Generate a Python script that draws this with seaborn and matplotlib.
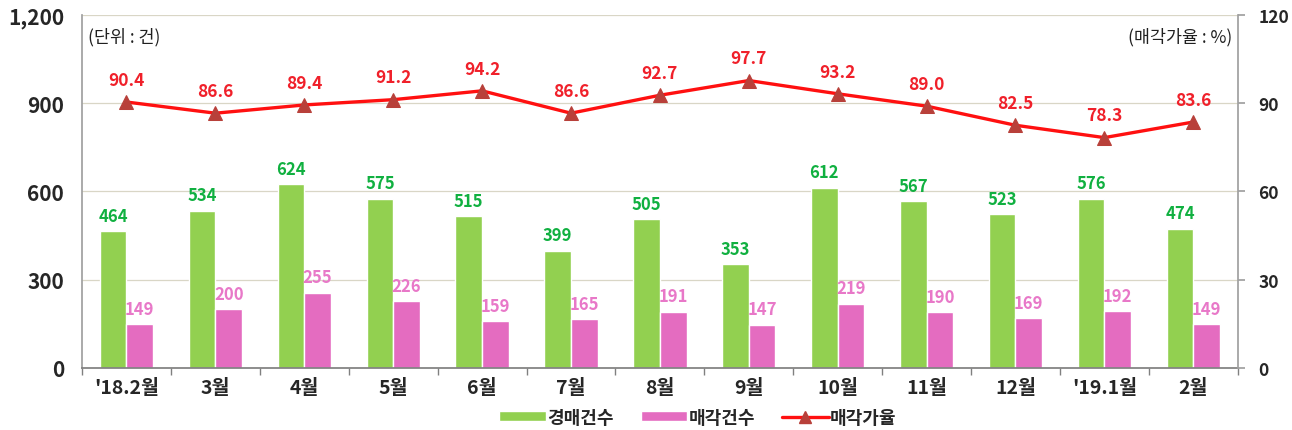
import numpy as np
import pandas as pd
import matplotlib
matplotlib.use("Agg")
import matplotlib.pyplot as plt
import seaborn as sns
from matplotlib.patches import Patch
from matplotlib.lines import Line2D

# data
months = ["'18.2월", "3월", "4월", "5월", "6월", "7월", "8월", "9월",
          "10월", "11월", "12월", "'19.1월", "2월"]
auction_cnt = [464, 534, 624, 575, 515, 399, 505, 353, 612, 567, 523, 576, 474]
sold_cnt = [149, 200, 255, 226, 159, 165, 191, 147, 219, 190, 169, 192, 149]
sale_rate = [90.4, 86.6, 89.4, 91.2, 94.2, 86.6, 92.7, 97.7, 93.2, 89.0, 82.5, 78.3, 83.6]

GREEN = "#92D050"
PINK = "#E46CC0"
RED = "#FF1010"

sns.set_theme(style="white")
plt.rcParams["font.family"] = ["Noto Sans CJK KR", "DejaVu Sans"]
plt.rcParams["font.weight"] = "bold"

df = pd.DataFrame({
    "월": months * 2,
    "건수": auction_cnt + sold_cnt,
    "구분": ["경매건수"] * len(months) + ["매각건수"] * len(months),
})

fig = plt.figure(figsize=(12.92, 4.31), dpi=100)
ax = fig.add_axes([0.0635, 0.144, 0.8945, 0.819])

sns.barplot(data=df, x="월", y="건수", hue="구분", palette=[GREEN, PINK],
            width=0.6, saturation=1, ax=ax, legend=False)

ax.set_ylim(0, 1200)
ax.set_yticks([0, 300, 600, 900, 1200])
ax.set_yticklabels(["0", "300", "600", "900", "1,200"], fontsize=15, fontweight="heavy")
ax.set_xlim(-0.5, len(months) - 0.5)
ax.set_xlabel("")
ax.set_ylabel("")
ax.yaxis.grid(True, color="#D9D6C6", linewidth=0.9)
ax.set_axisbelow(True)
ax.set_xticks(range(len(months)))
ax.set_xticklabels(months, fontsize=14, fontweight="heavy")
ax.tick_params(axis="x", length=0, pad=7)
ax.tick_params(axis="y", length=0, pad=13)
# boundary ticks between categories
ax.set_xticks(np.arange(-0.5, len(months), 1), minor=True)
ax.tick_params(axis="x", which="minor", length=5, color="#808080", direction="out", bottom=True)

for s in ["top", "right"]:
    ax.spines[s].set_visible(False)
ax.spines["left"].set_color("#A0A0A0")
ax.spines["bottom"].set_color("#808080")

# bar labels
for cont, col in zip(ax.containers, ["#10B040", "#E878C8"]):
    for rect in cont:
        h = rect.get_height()
        ax.text(rect.get_x() + rect.get_width() / 2, h + 22, f"{int(h)}",
                ha="center", va="bottom", fontsize=12, fontweight="heavy", color=col)

# line on secondary axis
ax2 = ax.twinx()
line_df = pd.DataFrame({"x": np.arange(len(months)), "rate": sale_rate})
sns.lineplot(data=line_df, x="x", y="rate", color=RED, linewidth=2.4, marker="^",
             markersize=10, markerfacecolor="#B8403A", markeredgecolor="#B8403A", ax=ax2)
ax2.set_ylim(0, 120)
ax2.set_yticks([0, 30, 60, 90, 120])
ax2.set_yticklabels(["0", "30", "60", "90", "120"], fontsize=12.5, fontweight="heavy")
ax2.tick_params(axis="y", length=5, color="#A0A0A0", direction="out", pad=10)
ax2.set_xlim(-0.5, len(months) - 0.5)
ax2.set_ylabel("")
ax2.set_xlabel("")
for s in ["top", "left", "bottom"]:
    ax2.spines[s].set_visible(False)
ax2.spines["right"].set_color("#A0A0A0")

for i, v in enumerate(sale_rate):
    ax2.text(i, v + 4.5, f"{v:.1f}", ha="center", va="bottom", fontsize=12.5,
             fontweight="heavy", color="#F0202A")

ax.text(0.005, 0.965, "(단위 : 건)", transform=ax.transAxes, ha="left", va="top",
        fontsize=12.5, fontweight="normal", color="#202020")
ax.text(0.995, 0.965, "(매각가율 : %)", transform=ax.transAxes, ha="right", va="top",
        fontsize=12.5, fontweight="normal", color="#202020")

handles = [Patch(facecolor=GREEN), Patch(facecolor=PINK),
           Line2D([0], [0], color=RED, linewidth=2.4, marker="^", markersize=8,
                  markerfacecolor="#B8403A", markeredgecolor="#B8403A")]
fig.legend(handles, ["경매건수", "매각건수", "매각가율"], loc="center",
           bbox_to_anchor=(0.54, 0.03), ncol=3, frameon=False, fontsize=13,
           handlelength=2.6, handleheight=0.5, columnspacing=1.5, handletextpad=0.05)

fig.savefig("out.png", dpi=100)
